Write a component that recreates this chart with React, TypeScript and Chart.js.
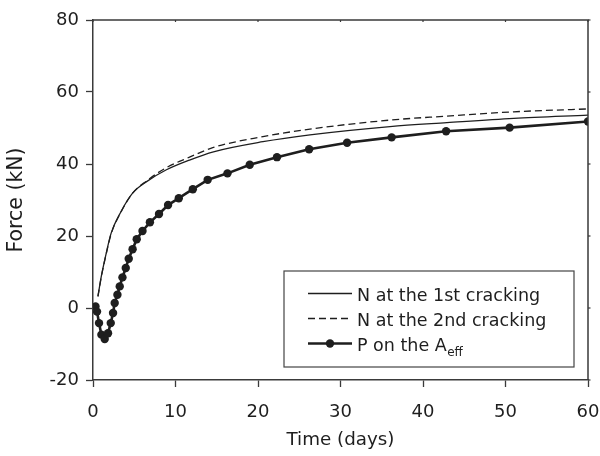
import React, { useEffect, useRef } from "react";
import { Chart, registerables } from "chart.js";

Chart.register(...registerables);

// ---- data ----
const nTime = [0.6, 1.0, 1.6, 2.2, 3.4, 4.8, 6.5, 8.9, 11.7, 14.6, 20.6, 26.3, 36, 42.9, 51, 60];
const n1Force = [3.2, 8.7, 15.2, 20.8, 26.8, 31.9, 35.1, 38.4, 41.1, 43.4, 46.2, 48.1, 50.4, 51.5, 52.7, 53.6];
const n2Force = [3.2, 8.6, 15.0, 20.6, 26.7, 31.9, 35.3, 39.0, 41.9, 44.6, 47.6, 49.7, 52.2, 53.3, 54.5, 55.3];

const pTime = [0.3, 0.49, 0.73, 1.02, 1.42, 1.82, 2.15, 2.43, 2.63, 2.96, 3.24, 3.57, 3.97, 4.33, 4.8, 5.3, 6.0, 6.9, 8.0, 9.1, 10.4, 12.1, 13.9, 16.3, 19.0, 22.3, 26.2, 30.8, 36.2, 42.8, 50.5, 60];
const pForce = [0.4, -1.0, -4.2, -7.4, -8.6, -7.0, -4.2, -1.4, 1.4, 3.7, 6.0, 8.5, 11.1, 13.7, 16.3, 19.1, 21.4, 23.8, 26.1, 28.6, 30.5, 33.0, 35.6, 37.4, 39.8, 41.9, 44.1, 45.9, 47.4, 49.1, 50.1, 51.8];

const seriesLabels = ["N at the 1st cracking", "N at the 2nd cracking", "P on the A"];
const seriesSubscripts = ["", "", "eff"];

const xTicks = [0, 10, 20, 30, 40, 50, 60];
const yTicks = [-20, 0, 20, 40, 60, 80];

const xTitle = "Time (days)";
const yTitle = "Force (kN)";

const FONT = "'DejaVu Sans', sans-serif";
const INK = "#1e1e1e";
const AXIS = "#3a3a3a";

const framePlugin = {
  id: "frame",
  afterDraw(chart: any) {
    const { ctx, chartArea, scales } = chart;
    ctx.save();
    ctx.strokeStyle = AXIS;
    ctx.lineWidth = 1.5;
    ctx.beginPath();
    ctx.moveTo(chartArea.left, chartArea.top);
    ctx.lineTo(chartArea.right, chartArea.top);
    ctx.lineTo(chartArea.right, chartArea.bottom);
    ctx.stroke();
    ctx.lineWidth = 1.2;
    xTicks.forEach((v) => {
      const x = scales.x.getPixelForValue(v);
      ctx.beginPath();
      ctx.moveTo(x, chartArea.top);
      ctx.lineTo(x, chartArea.top + 2);
      ctx.stroke();
    });
    yTicks.forEach((v) => {
      const y = scales.y.getPixelForValue(v);
      ctx.beginPath();
      ctx.moveTo(chartArea.right, y);
      ctx.lineTo(chartArea.right + 2.5, y);
      ctx.stroke();
    });
    ctx.restore();
  },
};

const legendPlugin = {
  id: "boxLegend",
  afterDraw(chart: any) {
    const { ctx, chartArea } = chart;
    const w = 290;
    const h = 96;
    const bx = chartArea.right - 14 - w;
    const by = chartArea.bottom - 13 - h;
    ctx.save();
    ctx.fillStyle = "#fff";
    ctx.fillRect(bx, by, w, h);
    ctx.strokeStyle = "#444";
    ctx.lineWidth = 1.2;
    ctx.strokeRect(bx, by, w, h);
    chart.data.datasets.forEach((ds: any, i: number) => {
      const y = by + 22.5 + i * 25;
      ctx.strokeStyle = ds.borderColor;
      ctx.lineWidth = ds.borderWidth;
      ctx.setLineDash(ds.borderDash || []);
      ctx.beginPath();
      ctx.moveTo(bx + 24, y);
      ctx.lineTo(bx + 68, y);
      ctx.stroke();
      ctx.setLineDash([]);
      if (ds.pointRadius > 0) {
        ctx.fillStyle = ds.pointBackgroundColor;
        ctx.beginPath();
        ctx.arc(bx + 46, y, ds.pointRadius, 0, Math.PI * 2);
        ctx.fill();
      }
      ctx.fillStyle = INK;
      ctx.textBaseline = "alphabetic";
      ctx.textAlign = "left";
      ctx.font = `17.5px ${FONT}`;
      const tx = bx + 73;
      const ty = y + 7;
      ctx.fillText(ds.label, tx, ty);
      const sub = seriesSubscripts[i];
      if (sub) {
        const tw = ctx.measureText(ds.label).width;
        ctx.font = `12px ${FONT}`;
        ctx.fillText(sub, tx + tw + 0.5, ty + 5.5);
      }
    });
    ctx.restore();
  },
};

export default function App() {
  const canvasRef = useRef<HTMLCanvasElement | null>(null);

  useEffect(() => {
    const canvas = canvasRef.current;
    if (!canvas) return;
    const font = { family: FONT, size: 18 };
    const chart = new Chart(canvas, {
      type: "line",
      data: {
        datasets: [
          {
            label: seriesLabels[0],
            data: nTime.map((t, i) => ({ x: t, y: n1Force[i] })),
            borderColor: INK,
            borderWidth: 1.3,
            pointRadius: 0,
            cubicInterpolationMode: "monotone",
            fill: false,
          },
          {
            label: seriesLabels[1],
            data: nTime.map((t, i) => ({ x: t, y: n2Force[i] })),
            borderColor: INK,
            borderWidth: 1.3,
            borderDash: [7, 4],
            pointRadius: 0,
            cubicInterpolationMode: "monotone",
            fill: false,
          },
          {
            label: seriesLabels[2],
            data: pTime.map((t, i) => ({ x: t, y: pForce[i] })),
            borderColor: INK,
            borderWidth: 2.6,
            pointRadius: 4.2,
            pointBackgroundColor: INK,
            pointBorderColor: INK,
            pointBorderWidth: 0,
            fill: false,
          },
        ],
      } as any,
      options: {
        animation: false,
        responsive: false,
        maintainAspectRatio: false,
        layout: { padding: { left: 0, right: 12, top: 20, bottom: 0 } },
        plugins: {
          legend: { display: false },
          tooltip: { enabled: false },
        },
        scales: {
          x: {
            type: "linear",
            min: 0,
            max: 60,
            afterBuildTicks: (s: any) => {
              s.ticks = xTicks.map((v) => ({ value: v }));
            },
            afterFit: (s: any) => {
              s.height = 76;
              s.paddingLeft = 0;
              s.paddingRight = 0;
            },
            grid: {
              display: true,
              drawOnChartArea: false,
              drawTicks: true,
              tickLength: 7,
              tickColor: AXIS,
              tickWidth: 1.3,
            },
            border: { display: true, color: AXIS, width: 1.5 },
            ticks: { font, color: INK, padding: 15, maxRotation: 0 },
            title: {
              display: true,
              text: xTitle,
              font: { family: FONT, size: 18.3 },
              color: INK,
              padding: { top: 0, bottom: 5 },
            },
          },
          y: {
            type: "linear",
            min: -20,
            max: 80,
            afterBuildTicks: (s: any) => {
              s.ticks = yTicks.map((v) => ({ value: v }));
            },
            afterFit: (s: any) => {
              s.width = 93;
              s.paddingTop = 0;
              s.paddingBottom = 0;
            },
            grid: {
              display: true,
              drawOnChartArea: false,
              drawTicks: true,
              tickLength: 7,
              tickColor: AXIS,
              tickWidth: 1.3,
            },
            border: { display: true, color: AXIS, width: 1.5 },
            ticks: { font, color: INK, padding: 7 },
            title: {
              display: true,
              text: yTitle,
              font: { family: FONT, size: 20.5 },
              color: INK,
              padding: { top: 4, bottom: 0 },
            },
          },
        },
      } as any,
      plugins: [framePlugin, legendPlugin],
    });
    return () => chart.destroy();
  }, []);

  return (
    <div style={{ position: "absolute", left: 0, top: 0, width: 600, height: 456, background: "#fff" }}>
      <canvas ref={canvasRef} width={600} height={456} style={{ display: "block", width: 600, height: 456 }} />
    </div>
  );
}
